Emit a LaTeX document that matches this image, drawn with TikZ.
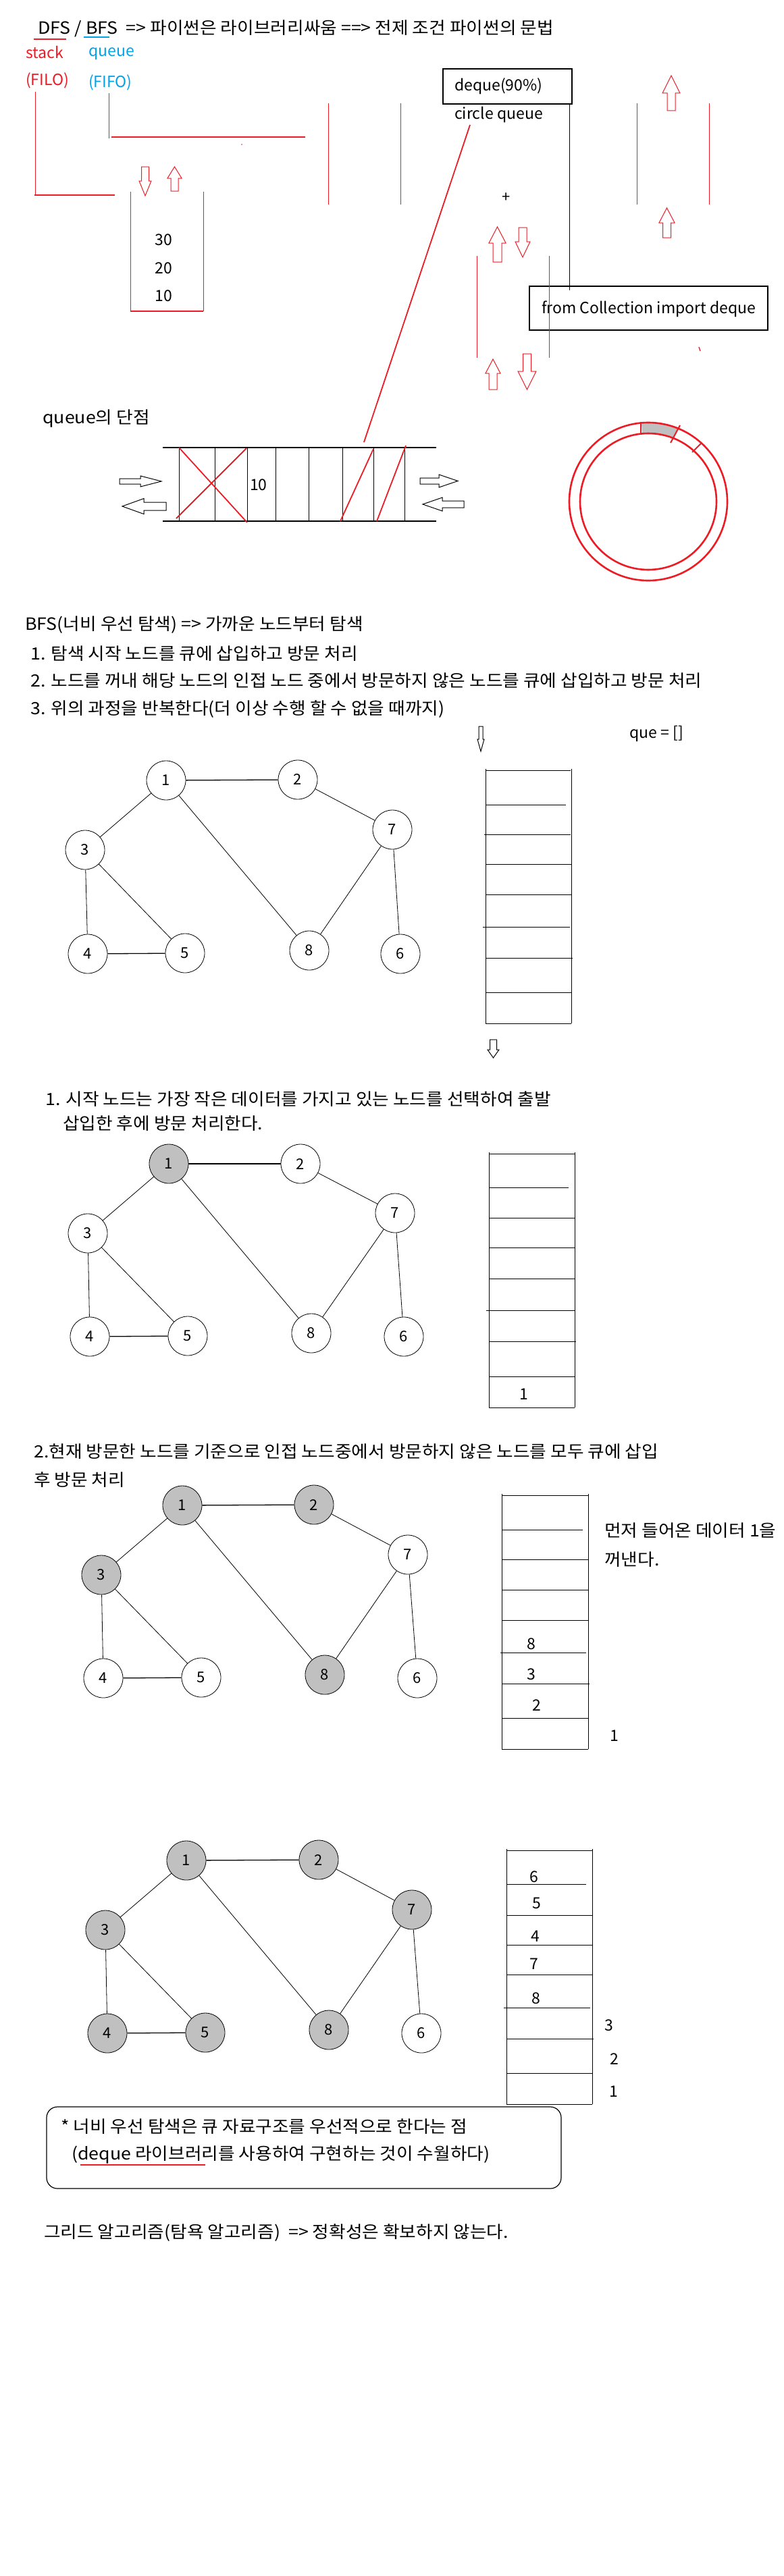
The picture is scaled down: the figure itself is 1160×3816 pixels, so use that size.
\documentclass[tikz,border=0pt]{standalone}
\usepackage{fontspec}
\usetikzlibrary{calc}
\setmainfont[FakeStretch=1.07]{Noto Sans CJK KR}
\newfontfamily\latfont{Noto Sans CJK KR}
\definecolor{rd}{RGB}{237,28,36}
\definecolor{bl}{RGB}{0,162,232}
\definecolor{gf}{RGB}{192,192,192}
\newcommand{\vArr}[7]{% xc, tip y, tail y, half width, shaft half, head base y, colour
  \draw[#7, line width=1pt, line join=miter] (#1,#2) -- ({#1+#4},#6) -- ({#1+#5},#6) -- ({#1+#5},#3) -- ({#1-#5},#3) -- ({#1-#5},#6) -- ({#1-#4},#6) -- cycle;}
\newcommand{\hArr}[7]{% yc, tip x, tail x, half height, shaft half, head base x, colour
  \draw[#7, line width=1pt, line join=miter] (#2,#1) -- (#6,{#1+#4}) -- (#6,{#1+#5}) -- (#3,{#1+#5}) -- (#3,{#1-#5}) -- (#6,{#1-#5}) -- (#6,{#1-#4}) -- cycle;}
\begin{document}
\begin{tikzpicture}[x=1pt,y=1pt,
  txt/.style={anchor=west, inner sep=0pt, font=\fontsize{25}{30}\selectfont},
  lat/.style={anchor=west, inner sep=0pt, font=\latfont\fontsize{23}{28}\selectfont},
  num/.style={anchor=center, inner sep=0pt, font=\latfont\fontsize{23}{28}\selectfont},
  gnode/.style={circle, draw, line width=0.8pt, minimum size=58pt, inner sep=0pt, fill=white, font=\latfont\fontsize{22}{26}\selectfont},
  gvis/.style={gnode, fill=gf},
  edge/.style={line width=0.8pt},
  edgeb/.style={line width=1.3pt},
  rline/.style={draw=rd, line width=1pt},
  rthick/.style={draw=rd, line width=1.8pt},
  qline/.style={line width=1pt}]
\useasboundingbox (0,0) rectangle (1160,-3816);

% ---------- top part ----------
\node[txt] (title) at (56,-42) {DFS / BFS \ => 파이썬은 라이브러리싸움 ==> 전제 조건 파이썬의 문법};
\draw[rd, line width=1.3pt] (50,-58) -- (98,-58);
\draw[bl, line width=1.3pt] (124,-55) -- (162,-55);
\node[lat, text=rd] (stk) at (38,-77) {stack};
\node[lat, text=bl] (que) at (131,-80) {queue};
\node[lat, text=rd] (filo) at (38,-119) {(FILO)};
\node[lat, text=bl] (fifo) at (131,-122) {(FIFO)};

\draw[rline] (52,-136) -- (52,-289);
\draw[rd, line width=1.6pt] (51,-289) -- (170,-289);
\draw[rline] (161,-138) -- (161,-205);
\draw[rd, line width=1.5pt] (165,-203) -- (452,-203);
\fill[rd] (358,-214) circle (0.9pt);

% stack box
\draw[rline] (193,-284) -- (193,-461);
\draw[rline] (301,-284) -- (301,-461);
\draw[rd, line width=1.8pt] (193,-461) -- (301,-461);
\node[num] (s30) at (242,-355) {30};
\node[num] (s20) at (242,-397) {20};
\node[num] (s10) at (242,-438) {10};
\vArr{215}{-290}{-247}{9}{5.5}{-268}{rd}
\vArr{258.5}{-247}{-283}{10.5}{5.5}{-264}{rd}

% vertical red lines
\draw[rline] (486,-153) -- (486,-303);
\draw[rline] (593,-153) -- (593,-303);
\draw[rline] (943,-153) -- (943,-303);
\draw[rline] (1050,-153) -- (1050,-303);
\draw[rline] (706,-379) -- (706,-530);

% deque box
\draw[line width=1.3pt] (656,-102) rectangle (847,-154);
\node[lat] (dq) at (673,-128) {deque(90\%)};
\node[lat] (cq) at (673,-170) {circle queue};
\draw[line width=1pt] (843,-154) -- (843,-430);
\node[num, font=\latfont\fontsize{22}{24}\selectfont] (plus) at (750,-293) {+};
\draw[rthick] (696,-185) -- (539,-655);

% from collection box
\draw[line width=1.3pt] (784,-424) rectangle (1137,-489);
\node[lat] (fc) at (802,-458) {from Collection import deque};
\draw[rline] (813,-379) -- (813,-530);

% red block arrows
\vArr{994}{-112}{-164}{13}{6}{-138}{rd}
\vArr{987.5}{-308}{-352}{11.5}{6}{-330}{rd}
\vArr{736.5}{-336}{-388}{12.5}{6.5}{-360}{rd}
\vArr{774}{-381}{-337}{11}{6}{-358}{rd}
\vArr{730}{-532}{-577}{11}{6}{-553}{rd}
\vArr{780.5}{-577}{-524}{13.5}{6}{-550}{rd}
\draw[rd, line width=1.3pt] (1035,-514) -- (1037,-520);

% queue weakness
\node[txt] (qw) at (63,-620) {queue의 단점};
\draw[line width=1.3pt] (241,-663) -- (646,-663);
\draw[line width=1.3pt] (241,-772) -- (646,-772);
\foreach \x in {265,318,366,408,457,507,553,599} \draw[qline] (\x,-663) -- (\x,-772);
\draw[rthick] (265,-663) -- (366,-774);
\draw[rthick] (365,-664) -- (261,-768);
\draw[rthick] (553,-665) -- (504,-772);
\draw[rthick] (601,-660) -- (558,-772);
\node[lat] (q10) at (370,-718) {10};
\hArr{-713}{239}{177}{8}{4}{208}{black}
\hArr{-750}{181}{246}{11.5}{6}{213}{black}
\hArr{-712.5}{678}{622}{9.5}{4.5}{650}{black}
\hArr{-747}{626}{687}{10}{5}{655}{black}

% ring
\fill[gf] ($(960,-743)+(95:117)$) arc[start angle=95, end angle=68, radius=117pt] -- ($(960,-743)+(69:101)$) arc[start angle=69, end angle=95, radius=101pt] -- cycle;
\draw[rd, line width=2.6pt] (960,-743) circle[radius=117pt];
\draw[rd, line width=2.6pt] (960,-743) circle[radius=101pt];
\draw[rd, line width=2pt] (949,-625) -- (949,-643);
\draw[rd, line width=2pt] (1007,-630) -- (993,-656);
\draw[rd, line width=2pt] (1038,-657) -- (1025,-670);

% ---------- BFS text ----------
\node[txt] (b0) at (37,-926) {BFS(너비 우선 탐색) => 가까운 노드부터 탐색};
\node[txt] (b1) at (45,-968) {1. 탐색 시작 노드를 큐에 삽입하고 방문 처리};
\node[txt] (b2) at (45,-1008) {2. 노드를 꺼내 해당 노드의 인접 노드 중에서 방문하지 않은 노드를 큐에 삽입하고 방문 처리};
\node[txt] (b3) at (45,-1050) {3. 위의 과정을 반복한다(더 이상 수행 할 수 없을 때까지)};
\vArr{712}{-1113}{-1076}{5}{3}{-1095}{black}
\node[lat] (qe) at (932,-1087) {que = []};

% ---------- graph 1 ----------
\node[gnode] (a1) at (246,-1156) {1};
\node[gnode] (a2) at (441,-1155) {2};
\node[gnode] (a7) at (581,-1229) {7};
\node[gnode] (a3) at (126,-1259) {3};
\node[gnode] (a4) at (130,-1413) {4};
\node[gnode] (a5) at (274,-1412) {5};
\node[gnode] (a8) at (458,-1408) {8};
\node[gnode] (a6) at (593,-1413) {6};
\draw[edgeb] (a1) -- (a2); \draw[edge] (a1) -- (a3); \draw[edge] (a1) -- (a8);
\draw[edge] (a2) -- (a7); \draw[edge] (a7) -- (a8); \draw[edge] (a7) -- (a6);
\draw[edge] (a3) -- (a4); \draw[edge] (a3) -- (a5); \draw[edgeb] (a4) -- (a5);
% column 1
\draw[qline] (719,-1139) -- (719,-1516); \draw[qline] (846,-1139) -- (846,-1516);
\draw[qline] (720,-1141) -- (845,-1141);
\draw[qline] (719,-1192) -- (838,-1192);
\draw[qline] (717,-1236) -- (845,-1236);
\draw[qline] (719,-1280) -- (846,-1280);
\draw[qline] (719,-1325) -- (846,-1325);
\draw[qline] (715,-1373) -- (844,-1373);
\draw[qline] (719,-1419) -- (848,-1419);
\draw[qline] (720,-1470) -- (846,-1470);
\draw[qline] (719,-1516) -- (846,-1516);
\vArr{730.5}{-1567}{-1540}{8.5}{5}{-1555}{black}

% ---------- graph 2 ----------
\node[txt] (c1) at (67,-1628) {1. 시작 노드는 가장 작은 데이터를 가지고 있는 노드를 선택하여 출발};
\node[txt] (c2) at (93,-1664) {삽입한 후에 방문 처리한다.};
\node[gvis]  (b1n) at (250,-1724) {1};
\node[gnode] (b2n) at (445,-1724) {2};
\node[gnode] (b7n) at (585,-1797) {7};
\node[gnode] (b3n) at (130,-1827) {3};
\node[gnode] (b4n) at (133,-1980) {4};
\node[gnode] (b5n) at (278,-1979) {5};
\node[gnode] (b8n) at (461,-1975) {8};
\node[gnode] (b6n) at (598,-1980) {6};
\draw[edgeb] (b1n) -- (b2n); \draw[edge] (b1n) -- (b3n); \draw[edge] (b1n) -- (b8n);
\draw[edge] (b2n) -- (b7n); \draw[edge] (b7n) -- (b8n); \draw[edge] (b7n) -- (b6n);
\draw[edge] (b3n) -- (b4n); \draw[edge] (b3n) -- (b5n); \draw[edgeb] (b4n) -- (b5n);
\draw[qline] (724,-1707) -- (724,-2085); \draw[qline] (851,-1707) -- (851,-2085);
\foreach \y in {1709,1804,1848,1894,2039,2085} \draw[qline] (724,-\y) -- (851,-\y);
\draw[qline] (724,-1759) -- (842,-1759);
\draw[qline] (720,-1941) -- (851,-1941);
\draw[qline] (724,-1987) -- (853,-1987);
\node[num] (cq1) at (776,-2065) {1};

% ---------- graph 3 ----------
\node[txt] (d1) at (50,-2150) {2.현재 방문한 노드를 기준으로 인접 노드중에서 방문하지 않은 노드를 모두 큐에 삽입};
\node[txt] (d2) at (50,-2192) {후 방문 처리};
\node[gvis]  (c1n) at (270,-2230) {1};
\node[gvis]  (c2n) at (465,-2229) {2};
\node[gnode] (c7n) at (604,-2303) {7};
\node[gvis]  (c3n) at (150,-2333) {3};
\node[gnode] (c4n) at (153,-2486) {4};
\node[gnode] (c5n) at (298,-2485) {5};
\node[gvis]  (c8n) at (481,-2481) {8};
\node[gnode] (c6n) at (618,-2486) {6};
\draw[edgeb] (c1n) -- (c2n); \draw[edge] (c1n) -- (c3n); \draw[edge] (c1n) -- (c8n);
\draw[edge] (c2n) -- (c7n); \draw[edge] (c7n) -- (c8n); \draw[edge] (c7n) -- (c6n);
\draw[edge] (c3n) -- (c4n); \draw[edge] (c3n) -- (c5n); \draw[edgeb] (c4n) -- (c5n);
\draw[qline] (743,-2213) -- (743,-2591); \draw[qline] (871,-2213) -- (871,-2591);
\foreach \y in {2215,2310,2355,2400,2545,2591} \draw[qline] (743,-\y) -- (871,-\y);
\draw[qline] (743,-2266) -- (863,-2266);
\draw[qline] (741,-2448) -- (868,-2448);
\draw[qline] (743,-2494) -- (873,-2494);
\node[num] (e8) at (787,-2435) {8};
\node[num] (e3) at (787,-2480) {3};
\node[num] (e2) at (795,-2526) {2};
\node[num] (e1) at (910,-2571) {1};
\node[txt] (f1) at (895,-2267) {먼저 들어온 데이터 1을};
\node[txt] (f2) at (895,-2310) {꺼낸다.};

% ---------- graph 4 ----------
\node[gvis]  (d1n) at (276,-2756) {1};
\node[gvis]  (d2n) at (472,-2755) {2};
\node[gvis]  (d7n) at (610,-2829) {7};
\node[gvis]  (d3n) at (156,-2859) {3};
\node[gvis]  (d4n) at (159,-3012) {4};
\node[gvis]  (d5n) at (304,-3011) {5};
\node[gvis]  (d8n) at (487,-3007) {8};
\node[gnode] (d6n) at (624,-3012) {6};
\draw[edgeb] (d1n) -- (d2n); \draw[edge] (d1n) -- (d3n); \draw[edge] (d1n) -- (d8n);
\draw[edge] (d2n) -- (d7n); \draw[edge] (d7n) -- (d8n); \draw[edge] (d7n) -- (d6n);
\draw[edge] (d3n) -- (d4n); \draw[edge] (d3n) -- (d5n); \draw[edgeb] (d4n) -- (d5n);
\draw[qline] (750,-2739) -- (750,-3117); \draw[qline] (877,-2739) -- (877,-3117);
\foreach \y in {2741,2837,2881,2925,3071,3117} \draw[qline] (750,-\y) -- (877,-\y);
\draw[qline] (750,-2791) -- (868,-2791);
\draw[qline] (746,-2974) -- (874,-2974);
\draw[qline] (750,-3020) -- (879,-3020);
\node[num] (g6) at (791,-2780) {6};
\node[num] (g5) at (795,-2819) {5};
\node[num] (g4) at (793,-2868) {4};
\node[num] (g7) at (791,-2909) {7};
\node[num] (g8) at (794,-2960) {8};
\node[num] (g3) at (902,-3000) {3};
\node[num] (g2) at (910,-3050) {2};
\node[num] (g1) at (909,-3098) {1};

% ---------- note box ----------
\draw[line width=1.2pt, rounded corners=16pt] (69,-3121) rectangle (831,-3242);
\node[txt] (n1) at (90,-3150) {* 너비 우선 탐색은 큐 자료구조를 우선적으로 한다는 점};
\node[txt] (n2) at (106,-3192) {(deque 라이브러리를 사용하여 구현하는 것이 수월하다)};
\draw[rd, line width=1.2pt] (119,-3207) -- (304,-3207);
\node[txt] (last) at (65,-3307) {그리드 알고리즘(탐욕 알고리즘) \ => 정확성은 확보하지 않는다.};
\end{tikzpicture}
\end{document}
